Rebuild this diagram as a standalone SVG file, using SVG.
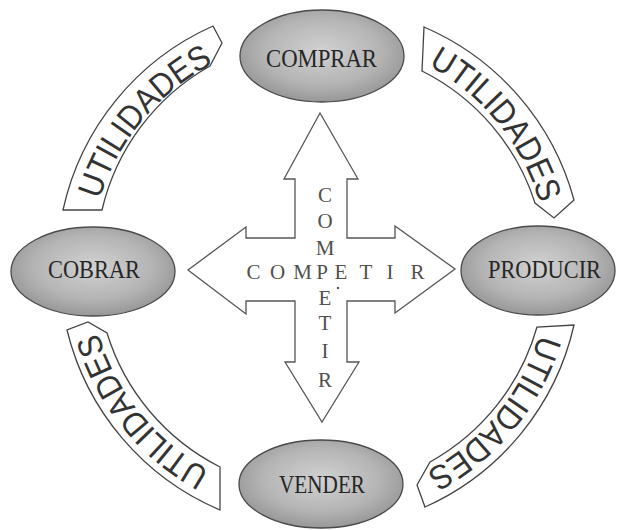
<svg xmlns="http://www.w3.org/2000/svg" width="617" height="530" viewBox="0 0 617 530">
<defs>
<radialGradient id="eg" cx="50%" cy="45%" r="60%">
<stop offset="0" stop-color="#d2d2d2"/>
<stop offset="0.6" stop-color="#b4b4b4"/>
<stop offset="1" stop-color="#909090"/>
</radialGradient>
<path id="tTL" d="M 92.5,228.1 A 230 230 0 0 1 240.3,51.9"/>
<path id="tTR" d="M 401.4,53.3 A 230 230 0 0 1 546.2,232.0"/>
<path id="tBR" d="M 545.8,306.0 A 230 230 0 0 1 399.5,483.4"/>
<path id="tBL" d="M 236.6,482.7 A 230 230 0 0 1 91.8,304.0"/>
</defs>
<style>
.node ellipse{fill:url(#eg);stroke:#4a4a4a;stroke-width:1.3}
.node text{font-family:"Liberation Serif",serif;font-size:25px;fill:#262626;text-anchor:middle}
.band path{fill:#fff;stroke:#444;stroke-width:1.3}
.band text{font-family:"Liberation Sans",sans-serif;font-size:34px;fill:#333;text-anchor:middle}
.cross{fill:#fff;stroke:#555;stroke-width:1.3}
.comp{font-family:"Liberation Serif",serif;font-size:21px;fill:#505050;text-anchor:middle}
</style>
<rect width="617" height="530" fill="#fff"/>
<g id="connectors">
<g id="band-tl" class="band">
<path d="M 63,210 A 263 263 0 0 1 213,26 L 222,43 L 210,66 A 224 224 0 0 0 102,210 Z"/>
<text><textPath href="#tTL" startOffset="50%" textLength="182" lengthAdjust="spacingAndGlyphs">UTILIDADES</textPath></text>
</g>
<g id="band-tr" class="band">
<path d="M 424,27 A 263 263 0 0 1 574,200 L 554,218 L 535,203 A 224 224 0 0 0 422,71 Z"/>
<text><textPath href="#tTR" startOffset="50%" textLength="182" lengthAdjust="spacingAndGlyphs">UTILIDADES</textPath></text>
</g>
<g id="band-br" class="band">
<path d="M 574,325 A 263 263 0 0 1 425,507 L 417,485 L 430,462 A 224 224 0 0 0 537,327 Z"/>
<text><textPath href="#tBR" startOffset="50%" textLength="182" lengthAdjust="spacingAndGlyphs">UTILIDADES</textPath></text>
</g>
<g id="band-bl" class="band">
<path d="M 220,510 A 263 263 0 0 1 67,330 L 88,322 L 107,333 A 224 224 0 0 0 220,467 Z"/>
<text><textPath href="#tBL" startOffset="50%" textLength="182" lengthAdjust="spacingAndGlyphs">UTILIDADES</textPath></text>
</g>
</g>
<g id="competir">
<path class="cross" d="M 320,113 L 358,179 L 347,179 L 347,238 L 395,238 L 395,226 L 455,269 L 395,313 L 395,301 L 347,301 L 347,362 L 359,362 L 322,422 L 285,362 L 295,362 L 295,301 L 246,301 L 246,314 L 188,270 L 246,227 L 246,238 L 295,238 L 295,179 L 284,179 Z"/>
<g class="comp">
<text x="253.5" y="279">C</text>
<text x="277.5" y="279">O</text>
<text x="302.5" y="279">M</text>
<text x="322" y="279">P</text>
<text x="341" y="279">E</text>
<text x="366" y="279">T</text>
<text x="390" y="279">I</text>
<text x="417.5" y="279">R</text>
<text x="325" y="202">C</text>
<text x="325" y="228">O</text>
<text x="325" y="255">M</text>
<text x="325" y="305">E</text>
<text x="325" y="330">T</text>
<text x="325" y="358">I</text>
<text x="325" y="387">R</text>
</g>
<circle cx="338" cy="288" r="1.2" fill="#555"/>
</g>
<g id="comprar" class="node">
<ellipse cx="322" cy="56" rx="82" ry="46"/>
<text x="321.5" y="67" textLength="111" lengthAdjust="spacingAndGlyphs">COMPRAR</text>
</g>
<g id="producir" class="node">
<ellipse cx="538" cy="270.5" rx="77" ry="44.5"/>
<text x="544.5" y="278" textLength="113" lengthAdjust="spacingAndGlyphs">PRODUCIR</text>
</g>
<g id="cobrar" class="node">
<ellipse cx="93" cy="271.5" rx="82" ry="44.5"/>
<text x="94" y="278" textLength="92" lengthAdjust="spacingAndGlyphs">COBRAR</text>
</g>
<g id="vender" class="node">
<ellipse cx="321" cy="484" rx="82" ry="44"/>
<text x="322" y="493" textLength="86" lengthAdjust="spacingAndGlyphs">VENDER</text>
</g>
</svg>
